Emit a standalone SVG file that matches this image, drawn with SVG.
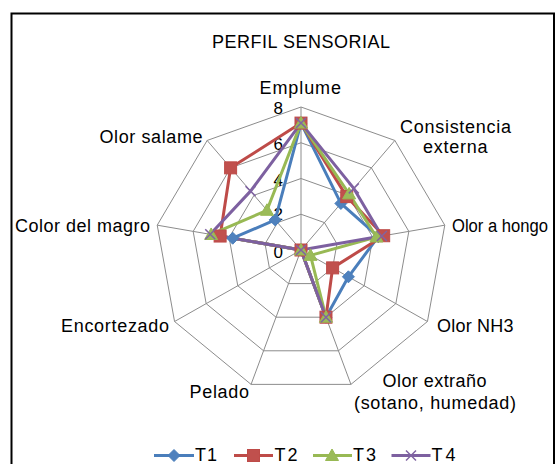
<svg xmlns="http://www.w3.org/2000/svg" width="555" height="464" viewBox="0 0 555 464">
<style>
text{font-family:"Liberation Sans",Arial,sans-serif;fill:#000;font-size:18px}
.num{font-size:17px;text-anchor:end}
.grid{fill:none;stroke:#8c8c8c;stroke-width:1}
.s{fill:none;stroke-width:3;stroke-linejoin:round}
.t1{stroke:#4A7EBB}.t2{stroke:#BE4B48}.t3{stroke:#98B954}.t4{stroke:#7D60A0}
</style>
<defs>
<path id="m1" d="M0,-6 L6,0 L0,6 L-6,0Z" fill="#4F81BD" stroke="#4A7EBB" stroke-width="1"/>
<rect id="m2" x="-6" y="-6" width="12" height="12" fill="#C0504D" stroke="#BE4B48" stroke-width="1"/>
<path id="m3" d="M0,-6.5 L6.5,5 L-6.5,5Z" fill="#9BBB59" stroke="#98B954" stroke-width="1"/>
<path id="m4" d="M-5,-5 L5,5 M-5,5 L5,-5" fill="none" stroke="#8064A2" stroke-width="1.5"/>
</defs>
<rect width="555" height="464" fill="#fff"/>
<path d="M11.5,464 V13.5 H554 V464" fill="none" stroke="#000" stroke-width="2"/>
<text id="title" x="301" y="48" text-anchor="middle" textLength="178" lengthAdjust="spacing">PERFIL SENSORIAL</text>
<g id="grid">
<polygon class="grid" points="301,107 394.85,140.46 444.78,225.18 427.44,321.5 350.93,384.38 251.07,384.38 174.56,321.5 157.22,225.18 207.15,140.46"/>
<polygon class="grid" points="301,142.75 371.39,167.84 408.84,231.38 395.83,303.63 338.45,350.79 263.55,350.79 206.17,303.63 193.16,231.38 230.61,167.84"/>
<polygon class="grid" points="301,178.5 347.93,195.23 372.89,237.59 364.22,285.75 325.97,317.19 276.03,317.19 237.78,285.75 229.11,237.59 254.07,195.23"/>
<polygon class="grid" points="301,214.25 324.46,222.61 336.95,243.8 332.61,267.88 313.48,283.6 288.52,283.6 269.39,267.88 265.05,243.8 277.54,222.61"/>
<path class="grid" d="M301,250 L301,107 M301,250 L394.85,140.46 M301,250 L444.78,225.18 M301,250 L427.44,321.5 M301,250 L350.93,384.38 M301,250 L251.07,384.38 M301,250 L174.56,321.5 M301,250 L157.22,225.18 M301,250 L207.15,140.46"/>
</g>
<g id="axis-labels">
<text class="num" x="283" y="114">8</text>
<text class="num" x="283" y="150">6</text>
<text class="num" x="283" y="186">4</text>
<text class="num" x="283" y="220">2</text>
<text class="num" x="283" y="258">0</text>
</g>
<g id="cat-emplume"><text x="259.5" y="94" textLength="81.5" lengthAdjust="spacing">Emplume</text></g>
<g id="cat-consistencia"><text x="400" y="133" textLength="111" lengthAdjust="spacing">Consistencia</text><text x="423" y="153" textLength="64.5" lengthAdjust="spacing">externa</text></g>
<g id="cat-hongo"><text x="452" y="232" font-size="17" textLength="96" lengthAdjust="spacingAndGlyphs">Olor a hongo</text></g>
<g id="cat-nh3"><text x="437" y="332" textLength="76.5" lengthAdjust="spacing">Olor NH3</text></g>
<g id="cat-extrano"><text x="382.5" y="387" textLength="104" lengthAdjust="spacing">Olor extraño</text><text x="354" y="409" textLength="162" lengthAdjust="spacing">(sotano, humedad)</text></g>
<g id="cat-pelado"><text x="189.5" y="398" textLength="59.5" lengthAdjust="spacing">Pelado</text></g>
<g id="cat-encortezado"><text x="61" y="332" textLength="108" lengthAdjust="spacing">Encortezado</text></g>
<g id="cat-magro"><text x="15" y="232" textLength="135" lengthAdjust="spacing">Color del magro</text></g>
<g id="cat-salame"><text x="99.5" y="143" textLength="103" lengthAdjust="spacing">Olor salame</text></g>
<g id="connectors">
<polygon class="s t1" points="301,123.09 340.89,203.45 378.28,236.66 348.41,276.81 325.97,317.19 301,250 301,250 232.7,238.21 275.19,219.88"/>
<polygon class="s t2" points="301,123.09 346.75,196.6 383.67,235.73 332.61,267.88 325.97,317.19 301,250 301,250 220.12,236.04 230.61,167.84"/>
<polygon class="s t3" points="301,123.09 349.1,193.86 376.48,236.97 310.48,255.36 325.97,317.19 301,250 301,250 211.14,234.48 266.98,210.29"/>
<polygon class="s t4" points="301,123.09 353.79,188.39 381.88,236.04 301,250 325.97,317.19 301,250 301,250 210.24,234.33 250.55,191.12"/>
</g>
<g id="series-T1">
<use href="#m1" x="301" y="123.09"/><use href="#m1" x="340.89" y="203.45"/><use href="#m1" x="378.28" y="236.66"/><use href="#m1" x="348.41" y="276.81"/><use href="#m1" x="325.97" y="317.19"/><use href="#m1" x="301" y="250"/><use href="#m1" x="232.7" y="238.21"/><use href="#m1" x="275.19" y="219.88"/>
</g>
<g id="series-T2">
<use href="#m2" x="301" y="123.09"/><use href="#m2" x="346.75" y="196.6"/><use href="#m2" x="383.67" y="235.73"/><use href="#m2" x="332.61" y="267.88"/><use href="#m2" x="325.97" y="317.19"/><use href="#m2" x="301" y="250"/><use href="#m2" x="220.12" y="236.04"/><use href="#m2" x="230.61" y="167.84"/>
</g>
<g id="series-T3">
<use href="#m3" x="301" y="123.09"/><use href="#m3" x="349.1" y="193.86"/><use href="#m3" x="376.48" y="236.97"/><use href="#m3" x="310.48" y="255.36"/><use href="#m3" x="325.97" y="317.19"/><use href="#m3" x="301" y="250"/><use href="#m3" x="211.14" y="234.48"/><use href="#m3" x="266.98" y="210.29"/>
</g>
<g id="series-T4">
<use href="#m4" x="301" y="123.09"/><use href="#m4" x="353.79" y="188.39"/><use href="#m4" x="381.88" y="236.04"/><use href="#m4" x="301" y="250"/><use href="#m4" x="325.97" y="317.19"/><use href="#m4" x="210.24" y="234.33"/><use href="#m4" x="250.55" y="191.12"/>
</g>
<g id="legend">
<line class="s t1" x1="154" y1="455.5" x2="194" y2="455.5"/><use href="#m1" x="174" y="455.5"/><text x="195" y="461" font-size="17" textLength="22" lengthAdjust="spacing">T1</text>
<line class="s t2" x1="234" y1="455.5" x2="273" y2="455.5"/><use href="#m2" x="253.5" y="455.5"/><text x="274.5" y="461" font-size="17" textLength="23" lengthAdjust="spacing">T2</text>
<line class="s t3" x1="313" y1="455.5" x2="352" y2="455.5"/><use href="#m3" x="332" y="455.5"/><text x="353" y="461" font-size="17" textLength="23" lengthAdjust="spacing">T3</text>
<line class="s t4" x1="391.5" y1="455.5" x2="430.5" y2="455.5"/><use href="#m4" x="411" y="455.5"/><text x="431.5" y="461" font-size="17" textLength="24" lengthAdjust="spacing">T4</text>
</g>
</svg>
